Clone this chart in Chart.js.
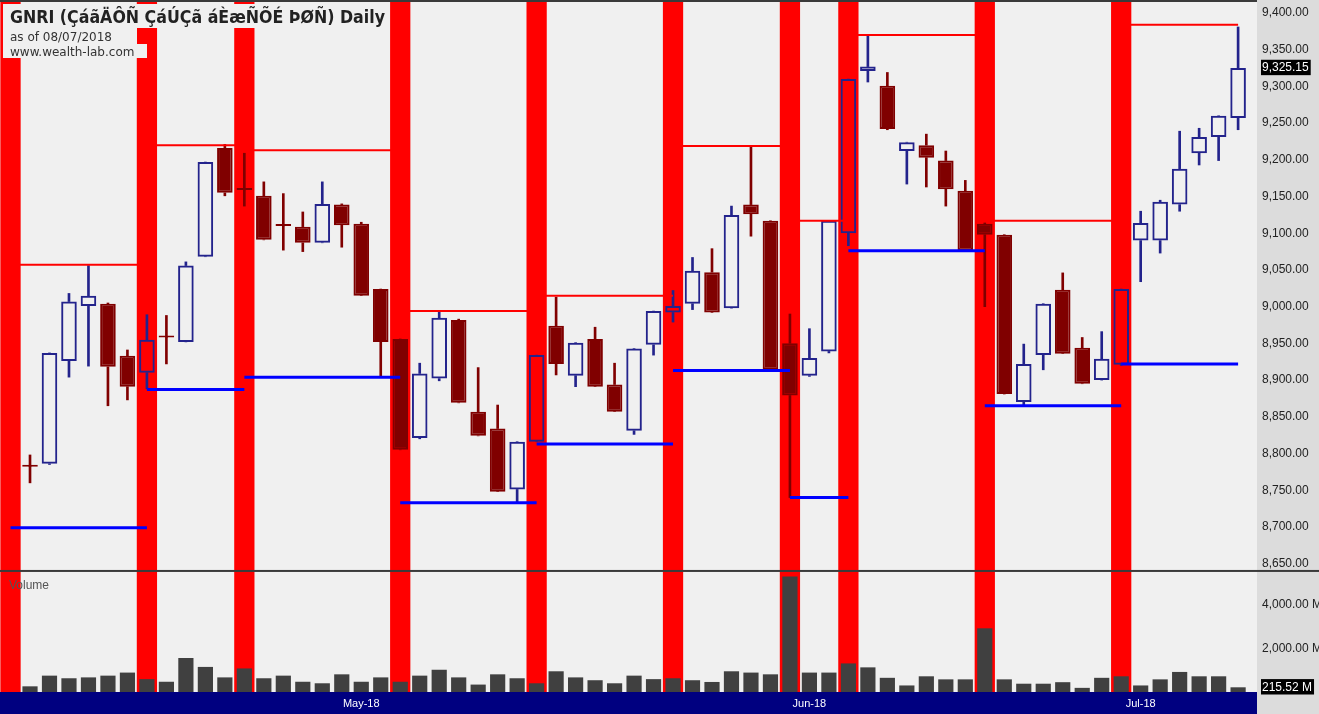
<!DOCTYPE html>
<html>
<head>
<meta charset="utf-8">
<script src="https://cdn.jsdelivr.net/npm/chart.js@4.4.0/dist/chart.umd.min.js"></script>
<style>
  html, body { margin: 0; padding: 0; background: #dcdcdc; }
  #wrap { width: 1319px; height: 714px; position: relative; }
</style>
</head>
<body>
<div id="wrap"><canvas id="chart"></canvas></div>
<script>
// daily bars, index 0 = first visible day
const opens  = [8782, 8786, 8926, 9001, 9004, 8933, 8910, 8958, 8952, 9068,
                9216, 9159, 9151, 9110, 9109, 9087, 9139, 9113, 9024, 8956,
                8821, 8902, 8982, 8857, 8834, 8751, 8816, 8974, 8906, 8956,
                8894, 8831, 8948, 8992, 9004, 9047, 8998, 9139, 9117, 8950,
                8906, 8939, 9100, 9321, 9301, 9212, 9220, 9199, 9158, 9113,
                9098, 8870, 8934, 9023, 8944, 8900, 8921, 9090, 9090, 9139,
                9209, 9231, 9257];
const highs  = [8798, 8937, 9018, 9056, 9005, 8941, 8989, 8988, 9061, 9197,
                9221, 9209, 9170, 9154, 9129, 9170, 9140, 9115, 9024, 8956,
                8923, 8994, 8983, 8917, 8866, 8816, 8934, 9013, 8951, 8972,
                8923, 8943, 8994, 9022, 9067, 9079, 9137, 9217, 9117, 8990,
                8970, 9117, 9310, 9369, 9319, 9224, 9235, 9212, 9172, 9114,
                9098, 8949, 9004, 9046, 8958, 8966, 9024, 9130, 9145, 9239,
                9243, 9260, 9381];
const lows   = [8760, 8785, 8904, 8919, 8865, 8873, 8888, 8922, 8952, 9068,
                9151, 9137, 9091, 9077, 9075, 9087, 9081, 9015, 8904, 8805,
                8820, 8899, 8869, 8824, 8748, 8733, 8816, 8907, 8891, 8891,
                8857, 8826, 8934, 8979, 8996, 8992, 8998, 9096, 8913, 8740,
                8905, 8937, 9083, 9306, 9241, 9167, 9163, 9137, 9076, 9000,
                8881, 8866, 8914, 8936, 8895, 8900, 8920, 9034, 9073, 9130,
                9193, 9199, 9241];
const closes = [8782, 8937, 9007, 9015, 8918, 8891, 8955, 8958, 9056, 9197,
                9155, 9159, 9091, 9110, 9087, 9140, 9111, 9015, 8952, 8805,
                8909, 8985, 8869, 8824, 8748, 8816, 8934, 8922, 8951, 8891,
                8857, 8943, 8994, 9001, 9049, 8992, 9125, 9126, 8914, 8879,
                8930, 9117, 9310, 9327, 9242, 9224, 9203, 9160, 9077, 9098,
                8881, 8922, 9004, 8936, 8895, 8929, 9024, 9114, 9143, 9188,
                9231, 9260, 9325.15];
const volumes = [260, 750, 630, 670, 750, 890, 590, 470, 1560, 1150,
                 670, 1080, 630, 750, 470, 400, 810, 470, 670, 470,
                 750, 1020, 670, 340, 810, 630, 400, 950, 670, 540,
                 400, 750, 590, 630, 540, 460, 950, 890, 810, 5300,
                 890, 890, 1310, 1130, 650, 300, 720, 580, 580, 2920,
                 580, 380, 380, 450, 190, 650, 720, 300, 580, 920,
                 720, 720, 215.52];

// marked bars (red bands) and the high / low of each span
const bandBars  = [-1, 6, 11, 19, 26, 33, 39, 42, 49, 56];
const spanHighs = [9057, 9220, 9213, 8994, 9015, 9219, 9117, 9370, 9117, 9384];
const spanLows  = [8699, 8887, 8904, 8733, 8813, 8913, 8740, 9076, 8865, 8922];

const monthBars   = [17, 40, 57];
const monthLabels = ['May-18', 'Jun-18', 'Jul-18'];
const priceTicks  = [8650, 8700, 8750, 8800, 8850, 8900, 8950, 9000,
                     9050, 9100, 9150, 9200, 9250, 9300, 9350, 9400];
const volumeTicks = [2000, 4000];

const priceMin = 8640, priceMax = 9415;
const volMax = 5550;
const lastClose = closes[closes.length - 1];
const lastVolume = volumes[volumes.length - 1];

const UP = '#23238c', DOWN = '#800000';

const fmt = v => v.toLocaleString('en-US', { minimumFractionDigits: 2, maximumFractionDigits: 2 });

const idx = closes.map((c, i) => i);
const isUp = i => closes[i] > opens[i];

const bodies = idx.map(i => ({ x: i, y: [opens[i], closes[i]] }));
const upperWicks = idx.map(i => ({ x: i, y: [Math.max(opens[i], closes[i]), highs[i]] }));
const lowerWicks = idx.map(i => ({ x: i, y: [lows[i], Math.min(opens[i], closes[i])] }));
const candleColor = idx.map(i => isUp(i) ? UP : DOWN);

function spanLine(levels) {
  const pts = [];
  levels.forEach((v, g) => {
    const end = g + 1 < bandBars.length ? bandBars[g + 1] : closes.length - 1;
    pts.push({ x: bandBars[g], y: v }, { x: end, y: v }, { x: end, y: null });
  });
  return pts;
}

const panes = {
  id: 'panes',
  beforeDraw(chart) {
    const { ctx, chartArea: a, width, height } = chart;
    ctx.save();
    ctx.fillStyle = '#dcdcdc';
    ctx.fillRect(0, 0, width, height);
    ctx.fillStyle = '#f0f0f0';
    ctx.fillRect(a.left, a.top, a.right - a.left, a.bottom - a.top);
    ctx.fillStyle = '#000080';
    ctx.fillRect(0, a.bottom, a.right, height - a.bottom);
    ctx.restore();
  },
  afterDatasetsDraw(chart) {
    const { ctx, chartArea: a, width } = chart;
    const sep = chart.scales.yv.top;
    ctx.save();
    ctx.fillStyle = '#3a3a3a';
    ctx.fillRect(0, sep - 1, width, 2);
    ctx.fillRect(0, 0, a.right, 2);

    // title block
    ctx.fillStyle = '#f0f0f0';
    ctx.fillRect(3, 4, 387, 24);
    ctx.fillRect(3, 28, 134, 16);
    ctx.fillRect(3, 44, 144, 14);
    ctx.fillStyle = '#222';
    ctx.textBaseline = 'alphabetic';
    ctx.font = 'bold 17px "DejaVu Sans"';
    ctx.fillText('GNRI (ÇáãÄÔÑ ÇáÚÇã áÈæÑÕÉ ÞØÑ) Daily', 10, 23, 375);
    ctx.fillStyle = '#333';
    ctx.font = '12px "DejaVu Sans"';
    ctx.fillText('as of 08/07/2018', 10, 41, 120);
    ctx.fillText('www.wealth-lab.com', 10, 56, 136);

    ctx.fillStyle = '#555';
    ctx.font = '12px "Liberation Sans"';
    ctx.fillText('Volume', 9, sep + 18);
    ctx.restore();
  }
};

const bandOpts = { type: 'bar', backgroundColor: '#ff0000', grouped: false,
                   barPercentage: 1.04, categoryPercentage: 1, order: 10 };

function fitRight(s) {
  s.width = 62;
  s.paddingTop = 0;
  s.paddingBottom = 0;
}

new Chart(document.getElementById('chart'), {
  data: {
    datasets: [
      Object.assign({ data: bandBars.map(b => ({ x: b, y: [priceMin, priceMax] })), yAxisID: 'y' }, bandOpts),
      Object.assign({ data: bandBars.map(b => ({ x: b, y: [0, volMax] })), yAxisID: 'yv' }, bandOpts),
      {
        type: 'bar', yAxisID: 'yv', grouped: false, order: 8,
        data: idx.map(i => ({ x: i, y: volumes[i] })),
        backgroundColor: '#404040', barPercentage: 0.78, categoryPercentage: 1
      },
      {
        type: 'bar', yAxisID: 'y', grouped: false, order: 6,
        data: upperWicks, backgroundColor: candleColor, barThickness: 2
      },
      {
        type: 'bar', yAxisID: 'y', grouped: false, order: 6,
        data: lowerWicks, backgroundColor: candleColor, barThickness: 2
      },
      {
        type: 'bar', yAxisID: 'y', grouped: false, order: 5,
        data: bodies,
        backgroundColor: idx.map(i => isUp(i) ? 'rgba(0,0,0,0)' : DOWN),
        borderColor: candleColor, borderWidth: 2, borderSkipped: false,
        minBarLength: 2, barPercentage: 0.8, categoryPercentage: 1
      },
      {
        type: 'line', yAxisID: 'y', order: 2,
        data: spanLine(spanHighs), borderColor: '#ff0000', borderWidth: 2,
        pointRadius: 0, spanGaps: false
      },
      {
        type: 'line', yAxisID: 'y', order: 1,
        data: spanLine(spanLows), borderColor: '#0000ff', borderWidth: 3,
        pointRadius: 0, spanGaps: false
      }
    ]
  },
  options: {
    responsive: true,
    maintainAspectRatio: false,
    animation: false,
    layout: { padding: { top: 2, left: 0, right: 0, bottom: 0 } },
    plugins: { legend: { display: false }, tooltip: { enabled: false } },
    scales: {
      x: {
        type: 'linear', position: 'bottom', min: -1.54, max: 62.97, offset: false,
        grid: { display: false, drawTicks: false, offset: false }, border: { display: false },
        afterBuildTicks: s => { s.ticks = monthBars.map(v => ({ value: v })); },
        afterFit: s => { s.height = 22; s.paddingLeft = 0; s.paddingRight = 0; },
        ticks: {
          autoSkip: false, maxRotation: 0, padding: 5, color: '#ffffff',
          font: { family: 'Liberation Sans', size: 11 },
          callback: v => monthLabels[monthBars.indexOf(v)]
        }
      },
      y: {
        type: 'linear', position: 'right', stack: 'panes', stackWeight: 4.7, offset: false,
        min: priceMin, max: priceMax,
        grid: { display: false, drawTicks: false }, border: { display: false },
        afterBuildTicks: s => {
          s.ticks = priceTicks.concat([lastClose]).sort((a, b) => a - b).map(v => ({ value: v }));
        },
        afterFit: fitRight,
        ticks: {
          autoSkip: false, padding: 5,
          font: { family: 'Liberation Sans', size: 12 },
          color: c => c.tick && c.tick.value === lastClose ? '#ffffff' : '#222222',
          showLabelBackdrop: true,
          backdropColor: c => c.tick && c.tick.value === lastClose ? '#000000' : 'rgba(0,0,0,0)',
          backdropPadding: { top: 1, bottom: 0, left: 1, right: 2 },
          callback: v => fmt(v)
        }
      },
      yv: {
        type: 'linear', position: 'right', stack: 'panes', stackWeight: 1, offset: false,
        min: 0, max: volMax,
        grid: { display: false, drawTicks: false }, border: { display: false },
        afterBuildTicks: s => {
          s.ticks = volumeTicks.concat([lastVolume]).sort((a, b) => a - b).map(v => ({ value: v }));
        },
        afterFit: fitRight,
        ticks: {
          autoSkip: false, padding: 5,
          font: { family: 'Liberation Sans', size: 12 },
          color: c => c.tick && c.tick.value === lastVolume ? '#ffffff' : '#222222',
          showLabelBackdrop: true,
          backdropColor: c => c.tick && c.tick.value === lastVolume ? '#000000' : 'rgba(0,0,0,0)',
          backdropPadding: { top: 1, bottom: 0, left: 1, right: 2 },
          callback: v => fmt(v) + ' M'
        }
      }
    }
  },
  plugins: [panes]
});
</script>
</body>
</html>
